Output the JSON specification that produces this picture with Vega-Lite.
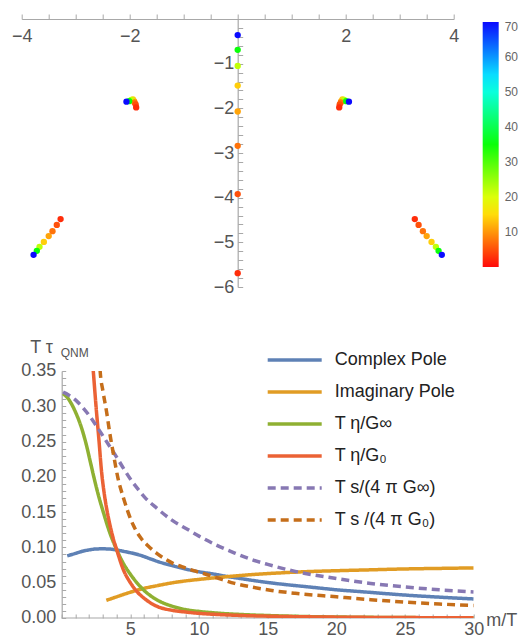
{
  "$schema": "https://vega.github.io/schema/vega-lite/v6.json",
  "padding": {"left": 10.7, "top": 10, "right": 0, "bottom": 0},
  "spacing": 43,
  "resolve": {"scale": {"color": "independent", "strokeDash": "independent", "strokeWidth": "independent"}},
  "config": {
    "view": {"stroke": null},
    "font": "Liberation Sans",
    "axis": {
      "grid": false,
      "domainColor": "#a8a8a8",
      "tickColor": "#a8a8a8",
      "domainWidth": 1.2,
      "tickWidth": 1,
      "labelColor": "#555555",
      "labelFontSize": 18,
      "labelFlush": false,
      "labelOverlap": false,
      "titleColor": "#555555",
      "titleFontSize": 18,
      "titleFontWeight": "normal"
    }
  },
  "vconcat": [
    {
      "width": 432,
      "height": 268,
      "data": {
        "values": [
          {"re": 0, "im": -2.07, "m": 11}, {"re": 0, "im": -1.49, "m": 14}, {"re": 0, "im": -1.05, "m": 22}, {"re": 0, "im": -2.84, "m": 7.5},
          {"re": 0, "im": -3.92, "m": 5}, {"re": 0, "im": -0.69, "m": 35}, {"re": 0, "im": -5.69, "m": 2.5}, {"re": 0, "im": -0.36, "m": 70},
          {"re": -1.92, "im": -1.84, "m": 11}, {"re": -1.94, "im": -1.8, "m": 14}, {"re": -1.97, "im": -1.81, "m": 22}, {"re": -1.91, "im": -1.87, "m": 7.5},
          {"re": -1.89, "im": -1.91, "m": 5}, {"re": -2.01, "im": -1.84, "m": 35}, {"re": -1.88, "im": -1.98, "m": 2.5}, {"re": -2.06, "im": -1.85, "m": 70},
          {"re": 1.92, "im": -1.84, "m": 11}, {"re": 1.94, "im": -1.8, "m": 14}, {"re": 1.97, "im": -1.81, "m": 22}, {"re": 1.91, "im": -1.87, "m": 7.5},
          {"re": 1.89, "im": -1.91, "m": 5}, {"re": 2.01, "im": -1.84, "m": 35}, {"re": 1.88, "im": -1.98, "m": 2.5}, {"re": 2.06, "im": -1.85, "m": 70},
          {"re": -3.5, "im": -4.86, "m": 11}, {"re": -3.59, "im": -4.99, "m": 14}, {"re": -3.67, "im": -5.1, "m": 22}, {"re": -3.43, "im": -4.75, "m": 7.5},
          {"re": -3.35, "im": -4.61, "m": 5}, {"re": -3.72, "im": -5.19, "m": 35}, {"re": -3.28, "im": -4.48, "m": 2.5}, {"re": -3.78, "im": -5.28, "m": 70},
          {"re": 3.5, "im": -4.86, "m": 11}, {"re": 3.59, "im": -4.99, "m": 14}, {"re": 3.67, "im": -5.1, "m": 22}, {"re": 3.43, "im": -4.75, "m": 7.5},
          {"re": 3.35, "im": -4.61, "m": 5}, {"re": 3.72, "im": -5.19, "m": 35}, {"re": 3.28, "im": -4.48, "m": 2.5}, {"re": 3.78, "im": -5.28, "m": 70}
        ]
      },
      "mark": {"type": "circle", "size": 40, "opacity": 1},
      "encoding": {
        "x": {
          "field": "re", "type": "quantitative",
          "scale": {"domain": [-4, 4], "nice": false, "zero": false},
          "axis": {
            "orient": "bottom", "offset": -268, "title": null, "labelOverlap": false, "labelFlush": false,
            "values": [-4, -3.5, -3, -2.5, -2, -1.5, -1, -0.5, 0, 0.5, 1, 1.5, 2, 2.5, 3, 3.5, 4],
            "labelExpr": "(datum.value == 2 || datum.value == 4 || datum.value == -2 || datum.value == -4) ? format(datum.value, 'd') : ''",
            "tickSize": -5, "labelPadding": 13
          }
        },
        "y": {
          "field": "im", "type": "quantitative",
          "scale": {"domain": [-6, 0], "nice": false, "zero": false},
          "axis": {
            "orient": "left", "offset": -216, "title": null, "labelOverlap": false, "minExtent": 0,
            "values": [-6, -5.8, -5.6, -5.4, -5.2, -5, -4.8, -4.6, -4.4, -4.2, -4, -3.8, -3.6, -3.4, -3.2, -3, -2.8, -2.6, -2.4, -2.2, -2, -1.8, -1.6, -1.4, -1.2, -1, -0.8, -0.6, -0.4, -0.2, 0],
            "labelExpr": "(datum.value != 0 && abs(datum.value - round(datum.value)) < 0.001) ? format(datum.value, 'd') : ''",
            "tickSize": -5, "labelPadding": 9
          }
        },
        "color": {
          "field": "m", "type": "quantitative",
          "scale": {"domain": [0, 70], "range": ["hsl(0,100%,52%)", "hsl(240,100%,52%)"], "interpolate": "hsl-long"},
          "legend": {
            "orient": "none", "legendX": 461, "legendY": 3, "direction": "vertical",
            "title": null, "gradientLength": 245, "gradientThickness": 16,
            "values": [10, 20, 30, 40, 50, 60, 70],
            "labelFontSize": 12, "labelColor": "#666666", "labelOffset": 6, "labelBaseline": "middle",
            "gradientStrokeWidth": 0, "padding": 0
          }
        }
      }
    },
    {
      "width": 452,
      "height": 247,
      "encoding": {
        "x": {
          "field": "x", "type": "quantitative",
          "scale": {"domain": [-2.9126, 30], "nice": false, "zero": false},
          "axis": {
            "title": "m/T", "titleX": 464, "titleY": 8, "titleAlign": "left", "titleBaseline": "alphabetic", "titleAngle": 0,
            "domain": false, "labelOverlap": false, "labelFlush": false,
            "values": [0, 1, 2, 3, 4, 5, 6, 7, 8, 9, 10, 11, 12, 13, 14, 15, 16, 17, 18, 19, 20, 21, 22, 23, 24, 25, 26, 27, 28, 29, 30],
            "labelExpr": "(datum.value > 0 && datum.value % 5 == 0) ? format(datum.value, 'd') : ''",
            "tickSize": -4, "labelPadding": 7
          }
        },
        "y": {
          "field": "y", "type": "quantitative",
          "scale": {"domain": [0, 0.35], "nice": false, "zero": false},
          "axis": {
            "title": "T τ", "titleX": -32, "titleY": -18, "titleAlign": "left", "titleBaseline": "alphabetic", "titleAngle": 0,
            "offset": -40, "minExtent": 0, "labelOverlap": false, "labelFlush": false,
            "values": [0, 0.01, 0.02, 0.03, 0.04, 0.05, 0.06, 0.07, 0.08, 0.09, 0.1, 0.11, 0.12, 0.13, 0.14, 0.15, 0.16, 0.17, 0.18, 0.19, 0.2, 0.21, 0.22, 0.23, 0.24, 0.25, 0.26, 0.27, 0.28, 0.29, 0.3, 0.31, 0.32, 0.33, 0.34, 0.35],
            "labelExpr": "abs(datum.value * 20 - round(datum.value * 20)) < 0.001 ? format(datum.value, '.2f') : ''",
            "tickSize": -4, "labelPadding": 10
          }
        }
      },
      "layer": [
        {
          "data": {"values": [{"x": 0, "x2": 30, "y": 0}]},
          "mark": {"type": "rule", "color": "#a8a8a8", "strokeWidth": 1.2},
          "encoding": {"x2": {"field": "x2"}}
        },
        {
          "data": {
            "values": [
              {"s": "Complex Pole", "x": 0.4, "y": 0.088}, {"s": "Complex Pole", "x": 1, "y": 0.0915}, {"s": "Complex Pole", "x": 1.5, "y": 0.0945},
              {"s": "Complex Pole", "x": 2, "y": 0.0965}, {"s": "Complex Pole", "x": 2.5, "y": 0.0978}, {"s": "Complex Pole", "x": 3, "y": 0.098},
              {"s": "Complex Pole", "x": 3.5, "y": 0.0977}, {"s": "Complex Pole", "x": 4, "y": 0.0965}, {"s": "Complex Pole", "x": 4.5, "y": 0.0945},
              {"s": "Complex Pole", "x": 5, "y": 0.0925}, {"s": "Complex Pole", "x": 5.7, "y": 0.089}, {"s": "Complex Pole", "x": 6.5, "y": 0.0835},
              {"s": "Complex Pole", "x": 7, "y": 0.08}, {"s": "Complex Pole", "x": 8, "y": 0.0745}, {"s": "Complex Pole", "x": 9, "y": 0.0695},
              {"s": "Complex Pole", "x": 10, "y": 0.0655}, {"s": "Complex Pole", "x": 11, "y": 0.0625}, {"s": "Complex Pole", "x": 12, "y": 0.059},
              {"s": "Complex Pole", "x": 13, "y": 0.056}, {"s": "Complex Pole", "x": 14, "y": 0.053}, {"s": "Complex Pole", "x": 16, "y": 0.048},
              {"s": "Complex Pole", "x": 18, "y": 0.044}, {"s": "Complex Pole", "x": 20, "y": 0.04}, {"s": "Complex Pole", "x": 22, "y": 0.037},
              {"s": "Complex Pole", "x": 25, "y": 0.0325}, {"s": "Complex Pole", "x": 28, "y": 0.029}, {"s": "Complex Pole", "x": 30, "y": 0.027},

              {"s": "Imaginary Pole", "x": 3.25, "y": 0.025}, {"s": "Imaginary Pole", "x": 4, "y": 0.03}, {"s": "Imaginary Pole", "x": 5, "y": 0.0365},
              {"s": "Imaginary Pole", "x": 6, "y": 0.042}, {"s": "Imaginary Pole", "x": 7, "y": 0.046}, {"s": "Imaginary Pole", "x": 8, "y": 0.0497},
              {"s": "Imaginary Pole", "x": 9, "y": 0.0525}, {"s": "Imaginary Pole", "x": 10, "y": 0.0547}, {"s": "Imaginary Pole", "x": 11, "y": 0.0567},
              {"s": "Imaginary Pole", "x": 12, "y": 0.0585}, {"s": "Imaginary Pole", "x": 13, "y": 0.0602}, {"s": "Imaginary Pole", "x": 14, "y": 0.0617},
              {"s": "Imaginary Pole", "x": 16, "y": 0.064}, {"s": "Imaginary Pole", "x": 18, "y": 0.0658}, {"s": "Imaginary Pole", "x": 20, "y": 0.067},
              {"s": "Imaginary Pole", "x": 22, "y": 0.068}, {"s": "Imaginary Pole", "x": 25, "y": 0.0695}, {"s": "Imaginary Pole", "x": 28, "y": 0.0704},
              {"s": "Imaginary Pole", "x": 30, "y": 0.071},

              {"s": "T η/G∞", "x": 0.1, "y": 0.318}, {"s": "T η/G∞", "x": 0.5, "y": 0.31}, {"s": "T η/G∞", "x": 1, "y": 0.292},
              {"s": "T η/G∞", "x": 1.5, "y": 0.266}, {"s": "T η/G∞", "x": 1.8, "y": 0.245}, {"s": "T η/G∞", "x": 2.1, "y": 0.22},
              {"s": "T η/G∞", "x": 2.4, "y": 0.195}, {"s": "T η/G∞", "x": 2.7, "y": 0.172}, {"s": "T η/G∞", "x": 3, "y": 0.152},
              {"s": "T η/G∞", "x": 3.5, "y": 0.121}, {"s": "T η/G∞", "x": 4, "y": 0.097}, {"s": "T η/G∞", "x": 4.5, "y": 0.077},
              {"s": "T η/G∞", "x": 5, "y": 0.062}, {"s": "T η/G∞", "x": 5.7, "y": 0.045}, {"s": "T η/G∞", "x": 6.3, "y": 0.034},
              {"s": "T η/G∞", "x": 7, "y": 0.025}, {"s": "T η/G∞", "x": 8, "y": 0.017}, {"s": "T η/G∞", "x": 9, "y": 0.012},
              {"s": "T η/G∞", "x": 10, "y": 0.0093}, {"s": "T η/G∞", "x": 11.3, "y": 0.007}, {"s": "T η/G∞", "x": 13, "y": 0.005},
              {"s": "T η/G∞", "x": 15, "y": 0.0035}, {"s": "T η/G∞", "x": 18, "y": 0.002}, {"s": "T η/G∞", "x": 22, "y": 0.001},
              {"s": "T η/G∞", "x": 26, "y": 0.0005}, {"s": "T η/G∞", "x": 30, "y": 0.0003},

              {"s": "T η/G₀", "x": 2.2, "y": 0.375}, {"s": "T η/G₀", "x": 2.3, "y": 0.35}, {"s": "T η/G₀", "x": 2.5, "y": 0.3},
              {"s": "T η/G₀", "x": 2.7, "y": 0.255}, {"s": "T η/G₀", "x": 2.9, "y": 0.208}, {"s": "T η/G₀", "x": 3.1, "y": 0.176},
              {"s": "T η/G₀", "x": 3.3, "y": 0.152}, {"s": "T η/G₀", "x": 3.5, "y": 0.133}, {"s": "T η/G₀", "x": 3.75, "y": 0.113},
              {"s": "T η/G₀", "x": 4, "y": 0.097}, {"s": "T η/G₀", "x": 4.5, "y": 0.068}, {"s": "T η/G₀", "x": 5, "y": 0.05},
              {"s": "T η/G₀", "x": 5.5, "y": 0.037}, {"s": "T η/G₀", "x": 6, "y": 0.028}, {"s": "T η/G₀", "x": 6.5, "y": 0.021},
              {"s": "T η/G₀", "x": 7, "y": 0.016}, {"s": "T η/G₀", "x": 8, "y": 0.011}, {"s": "T η/G₀", "x": 9, "y": 0.0085},
              {"s": "T η/G₀", "x": 10, "y": 0.0066}, {"s": "T η/G₀", "x": 11.3, "y": 0.005}, {"s": "T η/G₀", "x": 13, "y": 0.0036},
              {"s": "T η/G₀", "x": 15, "y": 0.0026}, {"s": "T η/G₀", "x": 20, "y": 0.0012}, {"s": "T η/G₀", "x": 25, "y": 0.0006},
              {"s": "T η/G₀", "x": 30, "y": 0.0003},

              {"s": "T s/(4 π G∞)", "x": 0.1, "y": 0.32}, {"s": "T s/(4 π G∞)", "x": 0.5, "y": 0.316}, {"s": "T s/(4 π G∞)", "x": 1, "y": 0.309},
              {"s": "T s/(4 π G∞)", "x": 1.5, "y": 0.299}, {"s": "T s/(4 π G∞)", "x": 2, "y": 0.287}, {"s": "T s/(4 π G∞)", "x": 2.5, "y": 0.273},
              {"s": "T s/(4 π G∞)", "x": 3, "y": 0.258}, {"s": "T s/(4 π G∞)", "x": 3.5, "y": 0.243}, {"s": "T s/(4 π G∞)", "x": 4, "y": 0.228},
              {"s": "T s/(4 π G∞)", "x": 4.5, "y": 0.212}, {"s": "T s/(4 π G∞)", "x": 5, "y": 0.197}, {"s": "T s/(4 π G∞)", "x": 5.5, "y": 0.184},
              {"s": "T s/(4 π G∞)", "x": 6, "y": 0.172}, {"s": "T s/(4 π G∞)", "x": 6.9, "y": 0.156}, {"s": "T s/(4 π G∞)", "x": 8, "y": 0.139},
              {"s": "T s/(4 π G∞)", "x": 9.3, "y": 0.124}, {"s": "T s/(4 π G∞)", "x": 10, "y": 0.116}, {"s": "T s/(4 π G∞)", "x": 11.3, "y": 0.103},
              {"s": "T s/(4 π G∞)", "x": 12.6, "y": 0.092}, {"s": "T s/(4 π G∞)", "x": 13.8, "y": 0.083}, {"s": "T s/(4 π G∞)", "x": 15, "y": 0.076},
              {"s": "T s/(4 π G∞)", "x": 17, "y": 0.066}, {"s": "T s/(4 π G∞)", "x": 20, "y": 0.056}, {"s": "T s/(4 π G∞)", "x": 22.5, "y": 0.049},
              {"s": "T s/(4 π G∞)", "x": 25, "y": 0.044}, {"s": "T s/(4 π G∞)", "x": 27.5, "y": 0.04}, {"s": "T s/(4 π G∞)", "x": 30, "y": 0.037},

              {"s": "T s /(4 π G₀)", "x": 2.74, "y": 0.37}, {"s": "T s /(4 π G₀)", "x": 2.8, "y": 0.35}, {"s": "T s /(4 π G₀)", "x": 3, "y": 0.322},
              {"s": "T s /(4 π G₀)", "x": 3.27, "y": 0.292}, {"s": "T s /(4 π G₀)", "x": 3.5, "y": 0.262}, {"s": "T s /(4 π G₀)", "x": 3.76, "y": 0.233},
              {"s": "T s /(4 π G₀)", "x": 4.1, "y": 0.198}, {"s": "T s /(4 π G₀)", "x": 4.5, "y": 0.17}, {"s": "T s /(4 π G₀)", "x": 4.85, "y": 0.149},
              {"s": "T s /(4 π G₀)", "x": 5.2, "y": 0.132}, {"s": "T s /(4 π G₀)", "x": 5.7, "y": 0.115}, {"s": "T s /(4 π G₀)", "x": 6.3, "y": 0.102},
              {"s": "T s /(4 π G₀)", "x": 6.9, "y": 0.092}, {"s": "T s /(4 π G₀)", "x": 7.5, "y": 0.084}, {"s": "T s /(4 π G₀)", "x": 8.1, "y": 0.0775},
              {"s": "T s /(4 π G₀)", "x": 9, "y": 0.071}, {"s": "T s /(4 π G₀)", "x": 9.8, "y": 0.066}, {"s": "T s /(4 π G₀)", "x": 10.5, "y": 0.062},
              {"s": "T s /(4 π G₀)", "x": 11.3, "y": 0.057}, {"s": "T s /(4 π G₀)", "x": 12.6, "y": 0.049}, {"s": "T s /(4 π G₀)", "x": 13.8, "y": 0.044},
              {"s": "T s /(4 π G₀)", "x": 15.3, "y": 0.039}, {"s": "T s /(4 π G₀)", "x": 17, "y": 0.035}, {"s": "T s /(4 π G₀)", "x": 20, "y": 0.03},
              {"s": "T s /(4 π G₀)", "x": 22.5, "y": 0.026}, {"s": "T s /(4 π G₀)", "x": 25, "y": 0.0225}, {"s": "T s /(4 π G₀)", "x": 27.5, "y": 0.0198},
              {"s": "T s /(4 π G₀)", "x": 30, "y": 0.0178}
            ]
          },
          "mark": {"type": "line", "interpolate": "monotone", "clip": true},
          "encoding": {
            "color": {
              "field": "s", "type": "nominal",
              "scale": {
                "domain": ["Complex Pole", "Imaginary Pole", "T η/G∞", "T η/G₀", "T s/(4 π G∞)", "T s /(4 π G₀)"],
                "range": ["#5E81B5", "#E19C24", "#8FB032", "#EB6235", "#8778B3", "#C56E1A"]
              },
              "legend": {
                "orient": "none", "legendX": 244, "legendY": -21, "title": null,
                "symbolType": "stroke", "symbolSize": 2916, "symbolStrokeWidth": 2.5,
                "labelFontSize": 18, "labelColor": "#222222", "labelOffset": 11,
                "rowPadding": 12, "clipHeight": 20, "padding": 0
              }
            },
            "strokeDash": {
              "field": "s", "type": "nominal",
              "scale": {
                "domain": ["Complex Pole", "Imaginary Pole", "T η/G∞", "T η/G₀", "T s/(4 π G∞)", "T s /(4 π G₀)"],
                "range": [[1, 0], [1, 0], [1, 0], [1, 0], [8, 5], [8, 5]]
              },
              "legend": {
                "orient": "none", "legendX": 244, "legendY": -21, "title": null,
                "symbolType": "stroke", "symbolSize": 2916, "symbolStrokeWidth": 2.5,
                "labelFontSize": 18, "labelColor": "#222222", "labelOffset": 11,
                "rowPadding": 12, "clipHeight": 20, "padding": 0
              }
            },
            "strokeWidth": {
              "field": "s", "type": "nominal",
              "scale": {
                "domain": ["Complex Pole", "Imaginary Pole", "T η/G∞", "T η/G₀", "T s/(4 π G∞)", "T s /(4 π G₀)"],
                "range": [3.5, 3.5, 2.3, 2.3, 2.3, 2.3]
              },
              "legend": null
            }
          }
        },
        {
          "data": {"values": [{"label": "QNM", "x": -0.07, "y": 0.37}]},
          "mark": {"type": "text", "fontSize": 12, "align": "left", "baseline": "alphabetic", "color": "#555555"},
          "encoding": {"text": {"field": "label", "type": "nominal"}}
        }
      ]
    }
  ]
}
